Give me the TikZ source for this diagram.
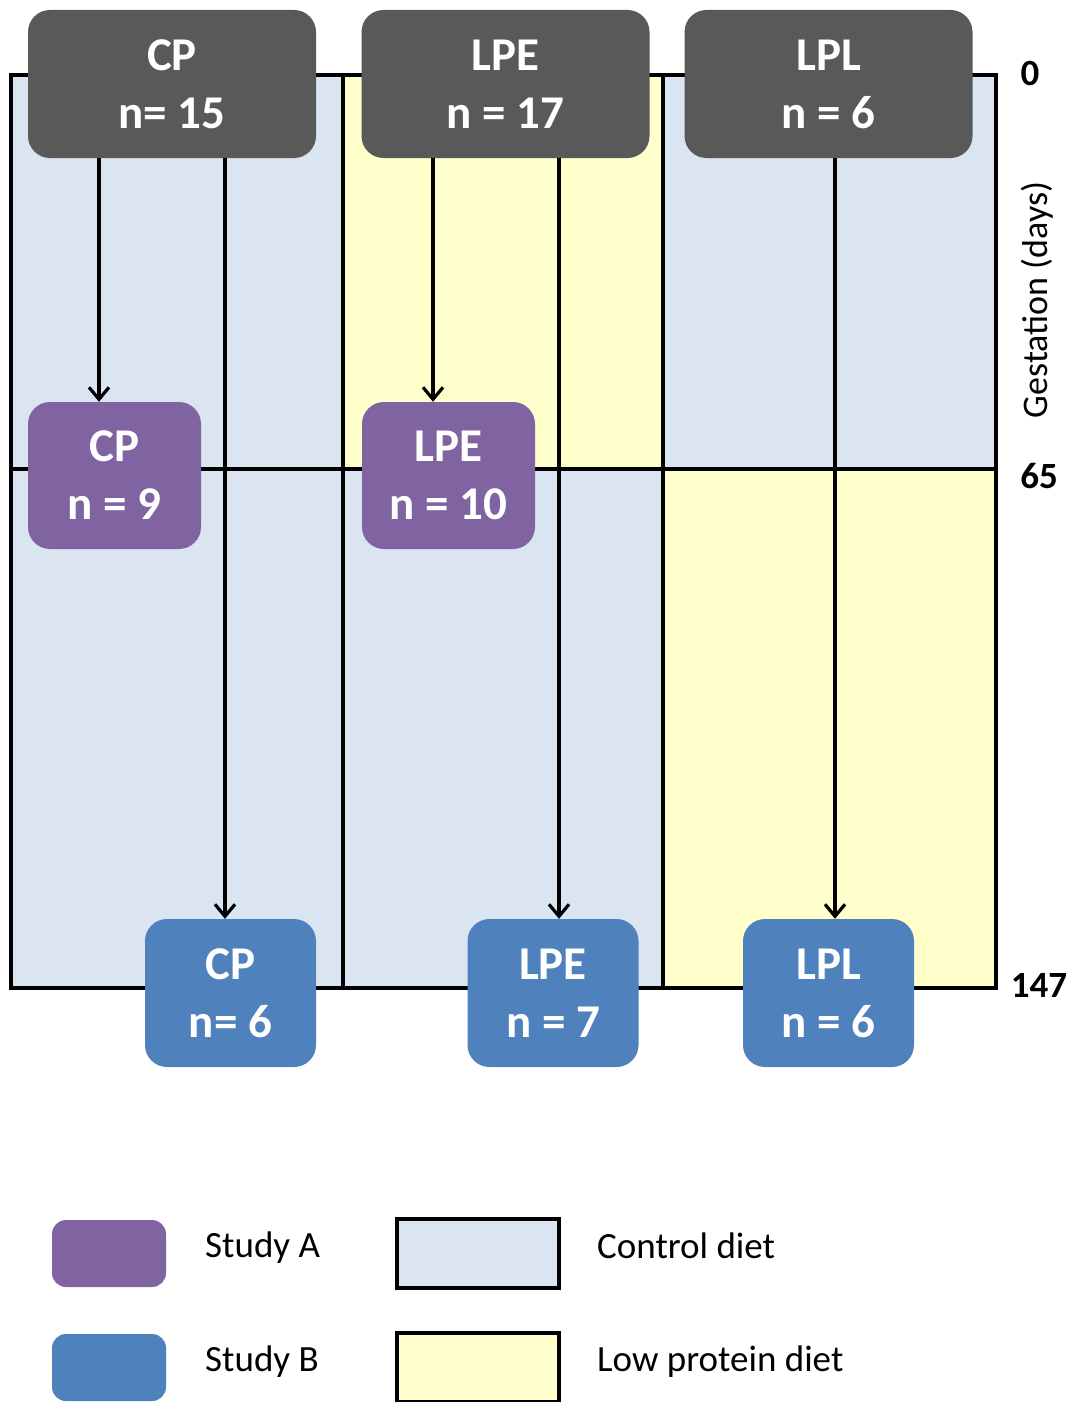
\documentclass[tikz,border=0pt]{standalone}
\usepackage{fontspec}
\setmainfont{Carlito}
\usetikzlibrary{arrows.meta}
\definecolor{ctrl}{HTML}{DBE5F1}
\definecolor{lowp}{HTML}{FFFFCC}
\definecolor{dgray}{HTML}{595959}
\definecolor{studyA}{HTML}{8064A2}
\definecolor{studyB}{HTML}{4F81BD}
\tikzset{
  grp/.style={rounded corners=22pt, text=white, align=center, inner sep=0pt,
    font=\fontsize{47}{58}\selectfont\bfseries},
  topbox/.style={grp, fill=dgray, minimum width=288pt, minimum height=148pt},
  abox/.style={grp, fill=studyA, minimum width=173pt, minimum height=147pt},
  bbox/.style={grp, fill=studyB, minimum width=171pt, minimum height=148pt},
  gridline/.style={line width=3.5pt},
  arr/.style={line width=3.2pt, -{Straight Barb[length=12pt,width=20pt]}},
  daylbl/.style={font=\fontsize{37}{40}\selectfont\bfseries, inner sep=0pt},
  legtxt/.style={font=\fontsize{37}{42}\selectfont, anchor=west, inner sep=0pt},
  legsw/.style={rounded corners=14pt, minimum width=114pt, minimum height=67pt, inner sep=0pt},
  legbox/.style={draw=black, line width=4pt, minimum width=162pt, minimum height=69pt, inner sep=0pt}
}
\begin{document}
\begin{tikzpicture}[x=1pt,y=-1pt]
\useasboundingbox[fill=white] (0,0) rectangle (1073,1402);
% background fills
\fill[ctrl] (11,75) rectangle (343,988);
\fill[lowp] (343,75) rectangle (663,469);
\fill[ctrl] (343,469) rectangle (663,988);
\fill[ctrl] (663,75) rectangle (996,469);
\fill[lowp] (663,469) rectangle (996,988);
% grid lines
\draw[gridline] (11,75) rectangle (996,988);
\draw[gridline] (11,469) -- (996,469);
\draw[gridline] (343,75) -- (343,988);
\draw[gridline] (663,75) -- (663,988);
% nodes
\node[topbox] (cp0)  at (172,84)  {CP\\n= 15};
\node[topbox] (lpe0) at (505.5,84) {LPE\\n = 17};
\node[topbox] (lpl0) at (828.5,84) {LPL\\n = 6};
\node[abox] (cpA)  at (114.5,475.5) {CP\\n = 9};
\node[abox] (lpeA) at (448.5,475.5) {LPE\\n = 10};
\node[bbox] (cpB)  at (230.5,993) {CP\\n= 6};
\node[bbox] (lpeB) at (553,993)   {LPE\\n = 7};
\node[bbox] (lplB) at (828.5,993) {LPL\\n = 6};
% arrows
\draw[arr] (cp0.south -| 99,0) -- (cpA.north -| 99,0);
\draw[arr] (cp0.south -| 225,0) -- (cpB.north -| 225,0);
\draw[arr] (lpe0.south -| 433,0) -- (lpeA.north -| 433,0);
\draw[arr] (lpe0.south -| 559,0) -- (lpeB.north -| 559,0);
\draw[arr] (lpl0.south -| 835,0) -- (lplB.north -| 835,0);
% day labels
\node[daylbl] (d0)   at (1030,73)  {0};
\node[daylbl] (d65)  at (1039,476) {65};
\node[daylbl] (d147) at (1039,985) {147};
\node[font=\fontsize{36}{40}\selectfont, rotate=90, inner sep=0pt] (gest) at (1037,300) {Gestation (days)};
% legend
\node[legsw, fill=studyA] (lA) at (109,1253.5) {};
\node[legsw, fill=studyB] (lB) at (109,1367.5) {};
\node[legtxt] (tA) at (205,1248) {Study A};
\node[legtxt] (tB) at (205,1362) {Study B};
\node[legbox, fill=ctrl] (lC) at (478,1253.5) {};
\node[legbox, fill=lowp] (lL) at (478,1367.5) {};
\node[legtxt] (tC) at (597,1246) {Control diet};
\node[legtxt] (tL) at (597,1362) {Low protein diet};
\end{tikzpicture}
\end{document}
